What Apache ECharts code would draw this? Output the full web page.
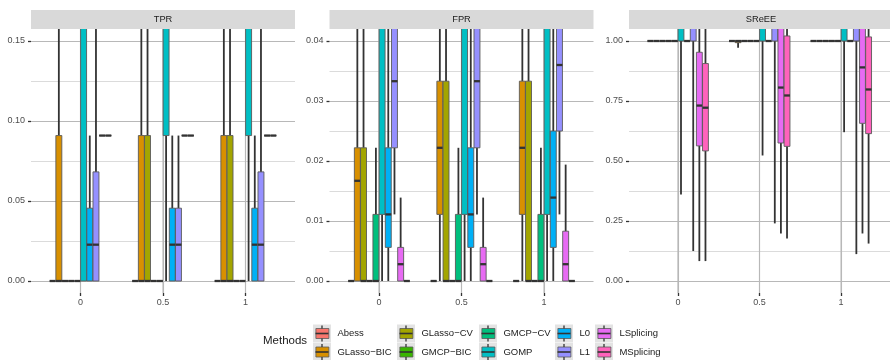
<!DOCTYPE html>
<html>
<head>
<meta charset="utf-8">
<script src="https://cdn.jsdelivr.net/npm/echarts@6/dist/echarts.min.js"></script>
<style>html,body{margin:0;padding:0;background:#fff}#c{width:890px;height:360px}</style>
</head>
<body>
<div id="c"></div>
<script>
// ---------------- data ----------------
const panels = ['TPR', 'FPR', 'SReEE'];
const groups = ['0', '0.5', '1'];
const methods = ['Abess', 'GLasso\u2212BIC', 'GLasso\u2212CV', 'GMCP\u2212BIC', 'GMCP\u2212CV',
                 'GOMP', 'L0', 'L1', 'LSplicing', 'MSplicing'];
const colors = ['#F8766D', '#D89000', '#A3A500', '#39B600', '#00BF7D',
                '#00BFC4', '#00B0F6', '#9590FF', '#E76BF3', '#FF62BC'];

// stats per method, per group: [min, q1, median, q3, max]
const tprStats = [
  [[0,0,0,0,0],[0,0,0,0,0],[0,0,0,0,0]],                                  // Abess
  [[0,0,0,0.0909,0.5],[0,0,0,0.0909,0.5],[0,0,0,0.0909,0.5]],            // GLasso-BIC
  [[0,0,0,0,0],[0,0,0,0.0909,0.5],[0,0,0,0.0909,0.5]],                    // GLasso-CV
  [[0,0,0,0,0],[0,0,0,0,0],[0,0,0,0,0]],                                  // GMCP-BIC
  [[0,0,0,0,0],[0,0,0,0,0],[0,0,0,0,0]],                                  // GMCP-CV
  [[0,0,0.3,0.6,1],[0,0.0909,0.4,0.8,1],[0,0.0909,0.4,0.8,1]],            // GOMP
  [[0,0,0.0227,0.0455,0.0909],[0,0,0.0227,0.0455,0.0909],[0,0,0.0227,0.0455,0.0909]], // L0
  [[0,0,0.0227,0.0682,0.5],[0,0,0.0227,0.0455,0.0909],[0,0,0.0227,0.0682,0.5]],       // L1
  [[0.0909,0.0909,0.0909,0.0909,0.0909],[0.0909,0.0909,0.0909,0.0909,0.0909],[0.0909,0.0909,0.0909,0.0909,0.0909]], // LSplicing
  [[0.0909,0.0909,0.0909,0.0909,0.0909],[0.0909,0.0909,0.0909,0.0909,0.0909],[0.0909,0.0909,0.0909,0.0909,0.0909]]  // MSplicing
];
const fprStats = [
  [[0,0,0,0,0],[0,0,0,0,0],[0,0,0,0,0]],
  [[0,0,0.0167,0.0222,0.1],[0,0.0111,0.0222,0.0333,0.1],[0,0.0111,0.0222,0.0333,0.1]],
  [[0,0,0,0.0222,0.1],[0,0,0,0.0333,0.1],[0,0,0,0.0333,0.1]],
  [[0,0,0,0,0],[0,0,0,0,0],[0,0,0,0,0]],
  [[0,0,0,0.0111,0.0222],[0,0,0,0.0111,0.0222],[0,0,0,0.0111,0.0222]],
  [[0,0.0111,0.05,0.08,0.15],[0,0.0111,0.05,0.08,0.15],[0,0.0111,0.05,0.08,0.15]],
  [[0,0.0056,0.0111,0.0222,0.06],[0,0.0056,0.0111,0.0222,0.06],[0,0.0056,0.0139,0.025,0.06]],
  [[0.0111,0.0222,0.0333,0.05,0.08],[0.0111,0.0222,0.0333,0.05,0.08],[0.0111,0.025,0.036,0.055,0.09]],
  [[0,0,0.0028,0.0056,0.0139],[0,0,0.0028,0.0056,0.0139],[0,0,0.0028,0.0083,0.0194]],
  [[0,0,0,0,0],[0,0,0,0,0],[0,0,0,0,0]]
];
const sreeStats = [
  [[1,1,1,1,1],[1,1,1,1,1],[1,1,1,1,1]],
  [[1,1,1,1,1],[0.972,0.993,1,1,1],[1,1,1,1,1]],
  [[1,1,1,1,1],[1,1,1,1,1],[1,1,1,1,1]],
  [[1,1,1,1,1],[1,1,1,1,1],[1,1,1,1,1]],
  [[1,1,1,1,1],[1,1,1,1,1],[1,1,1,1,1]],
  [[0.36,1,1.1,1.3,1.8],[0.523,1,1.1,1.3,1.8],[0.62,1,1.1,1.3,1.8]],
  [[1,1,1,1,1],[1,1,1,1,1],[1,1,1,1,1]],
  [[0.125,1,1.1,1.3,1.8],[0.24,1,1.1,1.3,1.8],[0.112,1,1.1,1.3,1.8]],
  [[0.083,0.563,0.731,0.953,1.3],[0.198,0.575,0.806,1.1,1.4],[0.198,0.657,0.89,1.1,1.4]],
  [[0.083,0.542,0.722,0.906,1.3],[0.177,0.561,0.773,1.021,1.3],[0.156,0.614,0.798,1.017,1.3]]
];
const panelStats = [tprStats, fprStats, sreeStats];

const tprTicks = [0, 0.05, 0.1, 0.15];
const tprMinor = [0.025, 0.075, 0.125];
const fprTicks = [0, 0.01, 0.02, 0.03, 0.04];
const fprMinor = [0.005, 0.015, 0.025, 0.035];
const sreeTicks = [0, 0.25, 0.5, 0.75, 1];
const sreeMinor = [0.125, 0.375, 0.625, 0.875];
const yTicks = [tprTicks, fprTicks, sreeTicks];
const yMinor = [tprMinor, fprMinor, sreeMinor];
const yRange = [[-0.0075, 0.1575], [-0.002, 0.042], [-0.05, 1.05]];
const xPositions = [0, 1, 2];

// ---------------- layout ----------------
const gridLeft = [31, 329.5, 629];
const gridTop = 29, gridH = 264, gridW = 264;
const DODGE = 0.75;
const FONT = 'Liberation Sans, Arial, Helvetica, sans-serif';
const GRIDCOL = '#b8b8b8';

const chart = echarts.init(document.getElementById('c'), null, {renderer: 'canvas'});

function makeRender(mi) {
  return function (params, api) {
    const gi = api.value(0);
    const mn = api.value(1), q1 = api.value(2), md = api.value(3), q3 = api.value(4), mx = api.value(5);
    const unit = api.size([1, 0])[0];
    const slot = unit * DODGE / methods.length;
    const cx = api.coord([gi, 0])[0] + (mi - (methods.length - 1) / 2) * slot;
    const half = slot * 0.48;
    const cs = params.coordSys;
    const top = cs.y, bot = cs.y + cs.height;
    const Y = v => api.coord([gi, v])[1];
    const cl = y => Math.max(top, Math.min(bot, y));
    const color = api.visual('color');
    const ch = [];
    function vline(ya, yb) {
      const a = cl(Math.min(ya, yb)), b = cl(Math.max(ya, yb));
      if (b - a > 0.05) ch.push({type: 'line', shape: {x1: cx, y1: a, x2: cx, y2: b},
        style: {stroke: '#333', lineWidth: 1.8}});
    }
    vline(Y(q3), Y(mx));
    vline(Y(mn), Y(q1));
    const ytRaw = Y(q3), ybRaw = Y(q1);
    const yt = cl(ytRaw), yb = cl(ybRaw);
    if (yb >= yt && !(ybRaw < top) && !(ytRaw > bot)) {
      ch.push({type: 'rect', shape: {x: cx - half, y: yt, width: 2 * half, height: yb - yt},
        style: {fill: color}});
      const so = {stroke: '#5a5a5a', lineWidth: 0.9};
      ch.push({type: 'line', shape: {x1: cx - half, y1: yt, x2: cx - half, y2: yb}, style: so});
      ch.push({type: 'line', shape: {x1: cx + half, y1: yt, x2: cx + half, y2: yb}, style: so});
      if (ytRaw >= top) ch.push({type: 'line', shape: {x1: cx - half, y1: yt, x2: cx + half, y2: yt}, style: so});
      if (ybRaw <= bot) ch.push({type: 'line', shape: {x1: cx - half, y1: yb, x2: cx + half, y2: yb}, style: so});
    }
    const ym = Y(md);
    if (ym >= top && ym <= bot) ch.push({type: 'line',
      shape: {x1: cx - half, y1: ym, x2: cx + half, y2: ym},
      style: {stroke: '#333', lineWidth: 2.3}});
    return {type: 'group', children: ch};
  };
}

// vertical major grid lines at the discrete x positions (drawn under the boxes)
function renderVGrid(params, api) {
  const cs = params.coordSys;
  const x = api.coord([api.value(0), 0])[0];
  return {type: 'line', shape: {x1: x, y1: cs.y, x2: x, y2: cs.y + cs.height},
    style: {stroke: GRIDCOL, lineWidth: 1.1}};
}

const grids = [], xAxes = [], yAxes = [], series = [];
panels.forEach((p, pi) => {
  grids.push({left: gridLeft[pi], top: gridTop, width: gridW, height: gridH, containLabel: false});
  xAxes.push({
    type: 'value', gridIndex: pi, min: -0.6, max: 2.6,
    axisLine: {show: true, onZero: false, lineStyle: {color: 'rgba(0,0,0,0)'}},
    axisTick: {show: true, length: 3, customValues: xPositions, lineStyle: {color: '#333', width: 1.3}},
    axisLabel: {customValues: xPositions, formatter: v => groups[Math.round(v)], color: '#4d4d4d',
      fontSize: 9, fontFamily: FONT, margin: 5},
    splitLine: {show: true, lineStyle: {color: GRIDCOL, width: 1.1}}
  });
  yAxes.push({
    type: 'value', gridIndex: pi, min: yRange[pi][0], max: yRange[pi][1], position: 'left',
    axisLine: {show: true, onZero: false, lineStyle: {color: 'rgba(0,0,0,0)'}},
    axisTick: {show: true, length: 3, customValues: yTicks[pi], lineStyle: {color: '#333', width: 1.3}},
    axisLabel: {customValues: yTicks[pi], formatter: v => v.toFixed(2), color: '#4d4d4d',
      fontSize: 9, fontFamily: FONT, margin: 6},
    splitLine: {show: true, lineStyle: {color: GRIDCOL, width: 1.1}}
  });
});
panels.forEach((p, pi) => {
  yAxes.push({
    type: 'value', gridIndex: pi, min: yRange[pi][0], max: yRange[pi][1], position: 'left',
    axisLine: {show: false},
    axisTick: {show: false, customValues: yMinor[pi]},
    axisLabel: {show: false, customValues: yMinor[pi]},
    splitLine: {show: true, lineStyle: {color: '#cccccc', width: 0.7}}
  });
});

panels.forEach((p, pi) => {
  series.push({
    type: 'custom', name: 'vgrid' + pi, xAxisIndex: pi, yAxisIndex: pi, silent: true,
    renderItem: renderVGrid, encode: {x: 0}, data: xPositions.map(v => [v]), z: 1
  });
  methods.forEach((m, mi) => {
    const st = panelStats[pi][mi];
    series.push({
      type: 'custom', name: m, xAxisIndex: pi, yAxisIndex: pi,
      itemStyle: {color: colors[mi]},
      renderItem: makeRender(mi),
      encode: {x: 0, y: [1, 2, 3, 4, 5]},
      data: groups.map((g, gi) => [gi].concat(st[gi])),
      z: 3
    });
  });
});

// legend: one component per key, arranged column-first like the reference
const keyX = [313, 397, 479, 555, 595];
const keyY = [324.5, 343];
const legends = [];
const graphics = [];
methods.forEach((m, i) => {
  const col = Math.floor(i / 2), row = i % 2;
  const kx = keyX[col], ky = keyY[row];
  legends.push({
    data: [m], left: kx + 2.5, top: ky + 9 - 6, padding: 0,
    itemWidth: 13, itemHeight: 10, icon: 'rect',
    itemStyle: {borderColor: '#5a5a5a', borderWidth: 0.8},
    textStyle: {fontSize: 9.5, fontFamily: FONT, color: '#1a1a1a', lineHeight: 12, padding: [0, 0, 0, 3.5]},
    selectedMode: false
  });
  graphics.push({type: 'rect', left: kx, top: ky, shape: {width: 18, height: 18}, style: {fill: '#e3e3e3'}, z: 0});
  const cx = kx + 9, cy = ky + 9;
  graphics.push({type: 'line', shape: {x1: kx + 2.5, y1: cy, x2: kx + 15.5, y2: cy}, style: {stroke: '#333', lineWidth: 1.6}, z: 10});
  graphics.push({type: 'line', shape: {x1: cx, y1: cy - 8, x2: cx, y2: cy - 5}, style: {stroke: '#333', lineWidth: 1.3}, z: 10});
  graphics.push({type: 'line', shape: {x1: cx, y1: cy + 5, x2: cx, y2: cy + 8}, style: {stroke: '#333', lineWidth: 1.3}, z: 10});
});
// facet strips
panels.forEach((p, pi) => {
  graphics.push({type: 'rect', shape: {x: gridLeft[pi], y: 10, width: gridW, height: 19}, style: {fill: '#d9d9d9'}, z: 0});
  graphics.push({type: 'text', x: gridLeft[pi] + gridW / 2, y: 19.5,
    style: {text: p, fill: '#1a1a1a', fontSize: 9.3, fontFamily: FONT, align: 'center', verticalAlign: 'middle'}, z: 1});
});

chart.setOption({
  animation: false,
  backgroundColor: '#ffffff',
  title: {text: 'Methods', left: 263, top: 335, padding: 0,
    textStyle: {fontSize: 11.5, fontWeight: 'normal', fontFamily: FONT, color: '#1a1a1a'}},
  grid: grids, xAxis: xAxes, yAxis: yAxes, series: series,
  legend: legends,
  graphic: {elements: graphics}
});
</script>
</body>
</html>
